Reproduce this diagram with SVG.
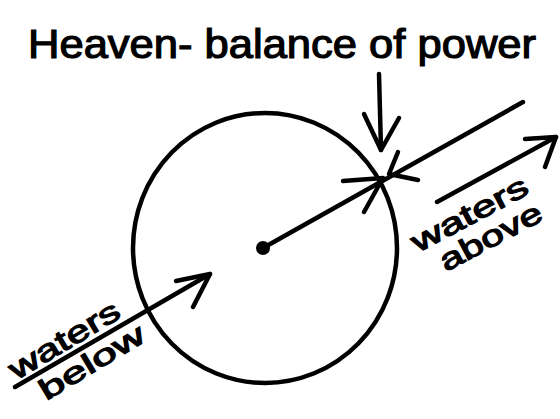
<svg xmlns="http://www.w3.org/2000/svg" width="560" height="419" viewBox="0 0 560 419">
<style>
.ln{fill:none;stroke:#000;stroke-width:4.5;stroke-linecap:round;stroke-linejoin:round}
.t{font-family:"Liberation Sans","DejaVu Sans",sans-serif;fill:#000;stroke:#000;stroke-width:1.2}
</style>
<rect width="560" height="419" fill="#fff"/>
<g id="title"><text class="t" x="282" y="58" font-size="40" text-anchor="middle" textLength="508" lengthAdjust="spacingAndGlyphs">Heaven- balance of power</text></g>
<g id="heaven-circle">
<ellipse class="ln" cx="265" cy="248" rx="132" ry="135"/>
<circle cx="263" cy="248" r="7" fill="#000"/>
</g>
<g id="waters-above"><g transform="rotate(-28 478 230)"><text class="t" x="478" y="222" font-size="30" text-anchor="middle" textLength="128" lengthAdjust="spacingAndGlyphs">waters</text><text class="t" x="486" y="252" font-size="30" text-anchor="middle" textLength="112" lengthAdjust="spacingAndGlyphs">above</text></g></g>
<g id="waters-below"><g transform="rotate(-31 78 355)"><text class="t" x="74" y="345" font-size="30" text-anchor="middle" textLength="124" lengthAdjust="spacingAndGlyphs">waters</text><text class="t" x="86" y="378" font-size="29" text-anchor="middle" textLength="118" lengthAdjust="spacingAndGlyphs">below</text></g></g>
<g id="connectors">
<path class="ln" d="M15 387 L210 274"/>
<path class="ln" d="M176 281 L210 274 L193 307"/>
<path class="ln" d="M263 248 L523 102"/>
<path class="ln" d="M343 181 L383 178 L364 212"/>
<path class="ln" d="M398 152 L389 174 L418 180"/>
<path class="ln" d="M379 74 L381 150"/>
<path class="ln" d="M364 114 L381 150 L399 118"/>
<path class="ln" d="M437 202 L556 137"/>
<path class="ln" d="M525 139 L556 137 L545 167"/>
</g>
</svg>
